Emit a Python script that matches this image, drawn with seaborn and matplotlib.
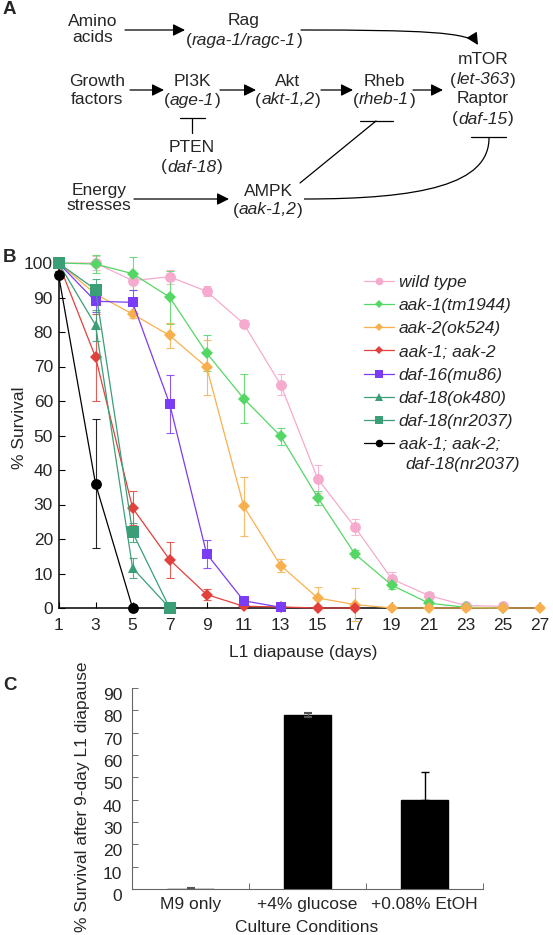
import matplotlib
matplotlib.use('Agg')
import matplotlib.pyplot as plt
import seaborn as sns
from matplotlib.path import Path
from matplotlib.patches import FancyArrowPatch, PathPatch
from matplotlib.lines import Line2D

sns.set_theme(style='ticks')
plt.rcParams['font.family'] = ['Liberation Sans', 'DejaVu Sans']

# --- Panel B data: % survival during L1 diapause ---
days = [1, 3, 5, 7, 9, 11, 13, 15, 17, 19, 21, 23, 25, 27]
strains = ['wild type', 'aak-1(tm1944)', 'aak-2(ok524)', 'aak-1; aak-2',
           'daf-16(mu86)', 'daf-18(ok480)', 'daf-18(nr2037)', 'aak-1; aak-2;']
wild_type = [100, 100, 94.9, 96, 91.8, 82.4, 64.7, 37.4, 23.5, 8.4, 3.6, 0.7, 0.5]
wild_type_err = [0, 2, 1, 2, 1.5, 1, 3, 4, 2.3, 2, 1, 0, 0]
aak1 = [100, 99.7, 96.9, 90.1, 73.9, 60.7, 49.8, 32, 15.7, 6.6, 1.4, 0.2, 0]
aak1_err = [0, 2.5, 4.8, 7.7, 5.3, 7, 2.5, 2, 1, 1, 0.5, 0, 0]
aak2 = [100, 91, 85.2, 79, 69.8, 29.5, 12.3, 2.9, 1, 0, 0, 0, 0, 0]
aak2_err = [0, 1, 1, 3.5, 8, 8.5, 2, 3.3, 4.7, 0, 0, 0, 0, 0]
aak12 = [100, 72.7, 29, 14, 3.9, 0.5, 0.3, 0, 0]
aak12_err = [0, 12.6, 4.8, 5.2, 1.7, 0.5, 0, 0, 0]
daf16 = [100, 88.9, 88.6, 59.2, 15.7, 2.1, 0.2]
daf16_err = [0, 3, 3.5, 8.4, 4, 0.5, 0]
daf18_ok480 = [100, 82, 11.6, 0]
daf18_ok480_err = [0, 4.5, 2.8, 0]
daf18_nr2037 = [100, 92.3, 21.9, 0]
daf18_nr2037_err = [0, 3, 2.7, 0]
triple = [96.6, 36, 0]
triple_err = [1, 18.7, 0]

# --- Panel C data ---
conditions = ['M9 only', '+4% glucose', '+0.08% EtOH']
survival_9day = [0, 78, 40]
survival_9day_err = [0.3, 0.8, 12.3]

colors = ['#F6AACD', '#55D765', '#F8B04E', '#E2403A', '#7A3CF4', '#3A9E76', '#3A9E76', '#000000']
markers = ['o', 'D', 'D', 'D', 's', '^', 's', 'o']
msizes = [7.8, 6.4, 6.4, 6.2, 7.8, 7.8, 8.6, 7.8]

FS = 12.5

fig = plt.figure(figsize=(5.53, 9.35), dpi=100)
ax0 = fig.add_axes([0, 0, 1, 1])
ax0.set_xlim(0, 553)
ax0.set_ylim(935, 0)
ax0.axis('off')
renderer = fig.canvas.get_renderer()


def label(x, y, s, **kw):
    ax0.text(x, y, s, ha='center', va='center', fontsize=FS, **kw)


def gene(x, y, name):
    t = ax0.text(x, y, name, ha='center', va='center', fontsize=FS, style='italic')
    w = t.get_window_extent(renderer).width
    ax0.text(x - w / 2 - 0.5, y, '(', ha='right', va='center', fontsize=FS)
    ax0.text(x + w / 2 + 0.5, y, ')', ha='left', va='center', fontsize=FS)


def arrow(x1, x2, y):
    ax0.add_patch(FancyArrowPatch((x1, y), (x2, y), arrowstyle='-|>,head_length=0.6,head_width=0.3',
                                  mutation_scale=12, color='black', lw=0.9, shrinkA=0, shrinkB=0))


# --- Panel A: pathway diagram ---
ax0.text(3, 9, 'A', fontsize=13.5, fontweight='bold', va='center', ha='left')
label(93, 21, 'Amino')
label(93, 38, 'acids')
arrow(125, 185, 30)
label(244, 21, 'Rag')
gene(244, 40, 'raga-1/ragc-1')
rag_path = Path([(301, 30), (420, 30), (470, 32), (478, 45)],
                [Path.MOVETO, Path.CURVE4, Path.CURVE4, Path.CURVE4])
ax0.add_patch(FancyArrowPatch(path=rag_path, arrowstyle='-|>,head_length=0.6,head_width=0.3',
                              mutation_scale=12, color='black', lw=0.9))
label(483, 60, 'mTOR')
gene(483, 80, 'let-363')
label(483, 99, 'Raptor')
gene(483, 119, 'daf-15')

label(97, 81, 'Growth')
label(97, 99, 'factors')
arrow(130, 164, 90)
label(192, 81, 'PI3K')
gene(192, 100, 'age-1')
arrow(220, 256, 90)
label(288, 81, 'Akt')
gene(288, 100, 'akt-1,2')
arrow(321, 353, 90)
label(384, 81, 'Rheb')
gene(384, 100, 'rheb-1')
arrow(413, 443, 90)

# PTEN inhibits PI3K
ax0.plot([180, 205], [118, 118], color='black', lw=0.9)
ax0.plot([192, 192], [118, 133], color='black', lw=0.9)
label(192, 148, 'PTEN')
gene(192, 167, 'daf-18')

# AMPK inhibits Rheb and mTOR
ax0.plot([360, 393], [121, 121], color='black', lw=0.9)
ax0.plot([376, 300], [121, 183], color='black', lw=0.9)
ax0.plot([471, 506], [137, 137], color='black', lw=0.9)
inh_path = Path([(489, 137), (490, 185), (420, 199), (304, 199)],
                [Path.MOVETO, Path.CURVE4, Path.CURVE4, Path.CURVE4])
ax0.add_patch(PathPatch(inh_path, fill=False, color='black', lw=0.9))

label(99, 190, 'Energy')
label(99, 205, 'stresses')
arrow(134, 229, 199)
label(268, 192, 'AMPK')
gene(268, 210, 'aak-1,2')

# --- Panel B: survival curves ---
ax0.text(3, 258, 'B', fontsize=13.5, fontweight='bold', va='center', ha='left')
axB = fig.add_axes([58.5 / 553, (935 - 608) / 935, 481.5 / 553, 345 / 935])
axB.patch.set_visible(False)
series = [(wild_type, wild_type_err), (aak1, aak1_err), (aak2, aak2_err), (aak12, aak12_err),
          (daf16, daf16_err), (daf18_ok480, daf18_ok480_err), (daf18_nr2037, daf18_nr2037_err),
          (triple, triple_err)]
handles = []
for i, (vals, errs) in enumerate(series):
    x = days[:len(vals)]
    axB.errorbar(x, vals, yerr=errs, fmt='none', ecolor=colors[i], elinewidth=0.8,
                 capsize=2.8, capthick=0.8, alpha=0.85, clip_on=False, zorder=2 + i * 0.1)
    sns.lineplot(x=x, y=vals, color=colors[i], marker=markers[i], markersize=msizes[i],
                 markeredgewidth=0, markeredgecolor=colors[i], lw=0.9, ax=axB,
                 clip_on=False, zorder=3 + i * 0.1, legend=False)
    handles.append(Line2D([], [], color=colors[i], marker=markers[i], markersize=msizes[i] * 0.7,
                          markeredgewidth=0, lw=0.9))

axB.set_xlim(1, 27)
axB.set_ylim(0, 100)
axB.set_xticks(days)
axB.set_yticks(range(0, 101, 10))
axB.tick_params(direction='in', length=4, width=0.8, labelsize=FS, color='black', pad=7)
axB.tick_params(axis='y', pad=4)
for s in ['top', 'right']:
    axB.spines[s].set_visible(False)
for s in ['left', 'bottom']:
    axB.spines[s].set_color('black')
    axB.spines[s].set_linewidth(1.1)
axB.set_xlabel('')
axB.set_ylabel('')
ax0.text(20, 428, '% Survival', rotation=90, ha='center', va='center', fontsize=FS)
ax0.text(303, 653, 'L1 diapause (days)', ha='center', va='center', fontsize=FS)

leg = axB.legend(handles, strains, loc='upper left', bbox_to_anchor=(364 / 553, 1 - 275 / 935),
                 bbox_transform=fig.transFigure, frameon=False, fontsize=FS,
                 handlelength=1.7, handletextpad=0.3, labelspacing=0.46, borderpad=0,
                 borderaxespad=0)
for t in leg.get_texts():
    t.set_style('italic')
ax0.text(405, 464, 'daf-18(nr2037)', style='italic', ha='left', va='center', fontsize=FS)

# --- Panel C: bar chart ---
ax0.text(3, 686, 'C', fontsize=13.5, fontweight='bold', va='center', ha='left')
axC = fig.add_axes([132 / 553, (935 - 889) / 935, 351 / 553, 201 / 935])
axC.patch.set_visible(False)
sns.barplot(x=conditions, y=survival_9day, color='black', width=0.4, saturation=1,
            edgecolor='black', ax=axC)
axC.errorbar([0, 1], survival_9day[:2], yerr=survival_9day_err[:2], fmt='none',
             ecolor='#555555', elinewidth=1, capsize=3, capthick=1.5)
axC.errorbar([2], [survival_9day[2]], yerr=[[0], [survival_9day_err[2]]], fmt='none',
             ecolor='black', elinewidth=1, capsize=3.2, capthick=1)
axC.set_xlim(-0.5, 2.5)
axC.set_ylim(0, 90)
axC.set_yticks(range(0, 91, 10))
axC.set_yticklabels([str(v) for v in range(0, 91, 10)], va='top')
axC.set_xticks([0.5, 1.5, 2.5], minor=True)
axC.tick_params(axis='x', which='major', length=0, pad=6, labelsize=FS)
axC.tick_params(axis='x', which='minor', direction='in', length=4, width=0.6, color='#555555')
axC.tick_params(axis='y', direction='in', length=4, width=0.6, color='#555555', pad=7, labelsize=FS)
for s in ['top', 'right']:
    axC.spines[s].set_visible(False)
for s in ['left', 'bottom']:
    axC.spines[s].set_color('#666666')
    axC.spines[s].set_linewidth(0.8)
axC.set_xlabel('')
axC.set_ylabel('')
ax0.text(83, 662, '% Survival after 9-day L1 diapause', rotation=90, ha='center', va='top',
         fontsize=FS)
ax0.text(307, 928, 'Culture Conditions', ha='center', va='center', fontsize=FS)

fig.savefig('out.png', dpi=100)
